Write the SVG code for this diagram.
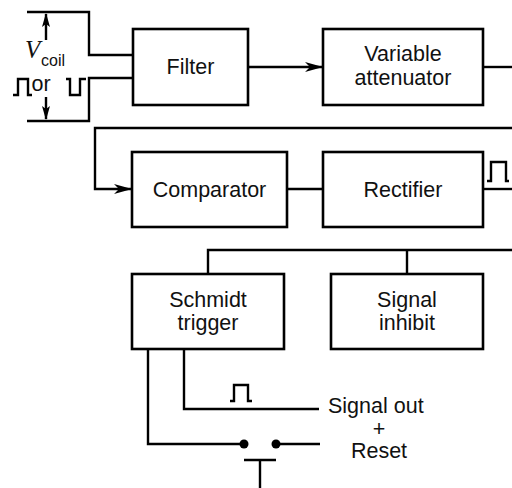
<svg xmlns="http://www.w3.org/2000/svg" width="512" height="488" viewBox="0 0 512 488">
<style>
.box{fill:#fff;stroke:#000;stroke-width:2.6}
.w{fill:none;stroke:#000;stroke-width:2.4}
.t{font-family:"Liberation Sans",Arial,sans-serif;font-size:21.5px;fill:#111;text-anchor:middle}
</style>
<defs>
<marker id="ah" markerWidth="18" markerHeight="10" refX="17" refY="5" orient="auto" markerUnits="userSpaceOnUse">
<path d="M0,0 L18,5 L0,10 L5,5 Z" fill="#000"/>
</marker>
<marker id="ah2" markerWidth="14" markerHeight="8" refX="13" refY="4" orient="auto" markerUnits="userSpaceOnUse">
<path d="M0,0 L14,4 L0,8 L3,4 Z" fill="#000"/>
</marker>
</defs>
<g id="connectors">
<path class="w" d="M27,12 H89 V55 H133"/>
<path class="w" d="M133,78 H89 V121 H27"/>
<path class="w" d="M46,40 V14" marker-end="url(#ah2)"/>
<path class="w" d="M46,97 V119" marker-end="url(#ah2)"/>
<path class="w" d="M13,95 H18 V79 H28 V95 H32"/>
<path class="w" d="M66,79 H70 V95 H80 V79 H86"/>
<path class="w" d="M248,67 H322" marker-end="url(#ah)"/>
<path class="w" d="M483,67 H512"/>
<path class="w" d="M512,128 H95 V189 H131" marker-end="url(#ah)"/>
<path class="w" d="M287,189 H323"/>
<path class="w" d="M483,189 H512"/>
<path class="w" d="M487,181 H491 V162 H506 V181 H509"/>
<path class="w" d="M512,250 H208 V274"/>
<path class="w" d="M407,250 V274"/>
<path class="w" d="M148,349 V444 H244"/>
<path class="w" d="M184,349 V409 H319"/>
<path class="w" d="M230,401 H234 V385 H248 V401 H252"/>
<path class="w" d="M276,444 H320"/>
<path class="w" d="M244,460 H276 M260,460 V488"/>
<circle cx="244" cy="444" r="4.5" fill="#000"/>
<circle cx="276" cy="444" r="4.5" fill="#000"/>
</g>
<g id="vcoil">
<text x="25" y="58" font-family="'Liberation Serif',serif" font-style="italic" font-size="25" fill="#111">V</text>
<text x="41" y="66" font-family="'Liberation Sans',Arial,sans-serif" font-size="16" fill="#111">coil</text>
<text x="41" y="91" class="t">or</text>
</g>
<g id="filter"><rect class="box" x="133" y="29" width="115" height="76"/><text class="t" x="190.5" y="74">Filter</text></g>
<g id="attenuator"><rect class="box" x="323" y="29" width="160" height="76"/><text class="t" x="403" y="61">Variable</text><text class="t" x="403" y="85">attenuator</text></g>
<g id="comparator"><rect class="box" x="132" y="152" width="155" height="75"/><text class="t" x="209.5" y="197">Comparator</text></g>
<g id="rectifier"><rect class="box" x="323" y="152" width="160" height="75"/><text class="t" x="403" y="197">Rectifier</text></g>
<g id="schmidt"><rect class="box" x="132" y="274" width="152" height="75"/><text class="t" x="208" y="307">Schmidt</text><text class="t" x="208" y="330">trigger</text></g>
<g id="inhibit"><rect class="box" x="331" y="274" width="152" height="75"/><text class="t" x="407" y="307">Signal</text><text class="t" x="407" y="330">inhibit</text></g>
<g id="labels">
<text class="t" x="328" y="413" style="text-anchor:start">Signal out</text>
<text class="t" x="379" y="436">+</text>
<text class="t" x="379" y="458">Reset</text>
</g>
</svg>
